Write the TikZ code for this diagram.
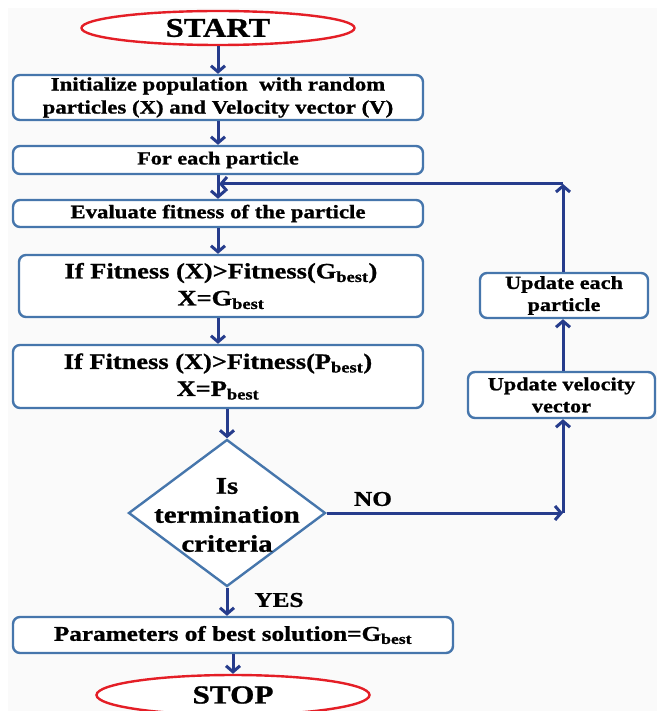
\documentclass[tikz,border=0pt]{standalone}
\usepackage{fontspec}
\setmainfont[FakeStretch=1.2, BoldFeatures={FakeBold=1}]{Liberation Serif}
\usetikzlibrary{shapes.geometric,arrows.meta}
\definecolor{boxblue}{RGB}{70,118,172}
\definecolor{arrnavy}{RGB}{38,60,140}
\definecolor{termred}{RGB}{228,30,38}
\definecolor{bgfill}{RGB}{250,250,250}
\tikzset{
  procbox/.style={draw=boxblue, line width=2.4pt, rounded corners=7pt, fill=white, inner sep=0pt, align=center},
  termnode/.style={ellipse, draw=termred, line width=2.4pt, fill=white, inner sep=0pt},
  decnode/.style={diamond, draw=boxblue, line width=2.4pt, fill=white, inner sep=0pt},
  arr/.style={draw=arrnavy, line width=3pt, -{Straight Barb[length=6pt,width=14pt]}},
  lbl/.style={inner sep=0pt, align=center}
}
\begin{document}
\begin{tikzpicture}[x=1pt,y=-1pt]
\useasboundingbox (0,0) rectangle (657,711);
\fill[white] (0,0) rectangle (657,711);
\fill[bgfill] (8,8) rectangle (657,711);

% left column
\node[termnode, minimum width=273pt, minimum height=34pt, font={\fontsize{27}{32}\selectfont\bfseries}] (start) at (218,28) {START};
\node[procbox, minimum width=410pt, minimum height=45pt, font={\fontsize{19}{23}\selectfont\bfseries}] (init) at (218,97.5)
  {Initialize population\ \ with random\\particles (X) and Velocity vector (V)};
\node[procbox, minimum width=410pt, minimum height=28pt, font={\fontsize{18.5}{22}\selectfont\bfseries}] (foreach) at (218,160) {For each particle};
\node[procbox, minimum width=410pt, minimum height=27pt, font={\fontsize{19}{22}\selectfont\bfseries}] (eval) at (218,213.5) {Evaluate fitness of the particle};
\node[procbox, minimum width=404pt, minimum height=62pt, font={\fontsize{22}{27}\selectfont\bfseries}] (ifg) at (221,286)
  {If Fitness (X)>Fitness(G\textsubscript{best})\\X=G\textsubscript{best}};
\node[procbox, minimum width=410pt, minimum height=63pt, font={\fontsize{22}{27}\selectfont\bfseries}] (ifp) at (218,376.5)
  {If Fitness (X)>Fitness(P\textsubscript{best})\\X=P\textsubscript{best}};
\node[decnode, minimum width=197pt, minimum height=147pt] (dia) at (227,513) {};
\node[lbl, font={\fontsize{24}{29}\selectfont\bfseries}] (diatext) at ([yshift=-2pt]dia.center) {Is\\termination\\criteria};
\node[procbox, minimum width=440pt, minimum height=36pt, font={\fontsize{21}{25}\selectfont\bfseries}] (param) at (233,635) {Parameters of best solution=G\textsubscript{best}};
\node[termnode, minimum width=273pt, minimum height=40pt, font={\fontsize{26}{30}\selectfont\bfseries}] (stop) at (233,695) {STOP};

% right column
\node[procbox, minimum width=168pt, minimum height=45pt, font={\fontsize{18.5}{22}\selectfont\bfseries}] (upd) at (564,295.5) {Update each\\particle};
\node[procbox, minimum width=187pt, minimum height=46pt, font={\fontsize{18.5}{22}\selectfont\bfseries}] (vel) at (561.5,395) {Update velocity\\vector};

% labels
\node[lbl, font={\fontsize{21}{25}\selectfont\bfseries}] (nolbl) at (373,499) {NO};
\node[lbl, font={\fontsize{21}{25}\selectfont\bfseries}] (yeslbl) at (279,600) {YES};

% coordinates
\coordinate (cno) at (563,513);
\coordinate (ctop) at (563,184);
\coordinate (jn) at (219,184);

% arrows
\draw[arr] (start) -- (init);
\draw[arr] (init) -- (foreach);
\draw[arr] (foreach) -- (eval);
\draw[arr] (eval.south) -- (eval.south |- ifg.north);
\draw[arr] (ifg.south -| ifp.north) -- (ifp.north);
\draw[arr] (ifp.south -| dia.north) -- (dia.north);
\draw[arr] (dia.south) -- (dia.south |- param.north);
\draw[arr] (param) -- (stop);
\draw[arr] (dia.east) -- (cno);
\draw[arr] (cno) -- (cno |- vel.south);
\draw[arr] (cno |- vel.north) -- (cno |- upd.south);
\draw[arr] (cno |- upd.north) -- (ctop);
\draw[arr] (ctop) -- (jn);
\end{tikzpicture}
\end{document}
